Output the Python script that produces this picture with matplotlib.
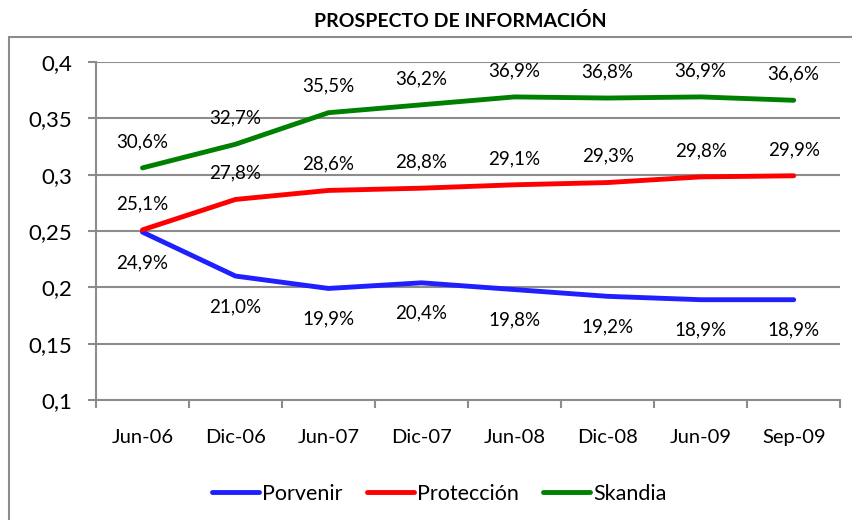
import matplotlib
matplotlib.use("Agg")
import matplotlib.pyplot as plt
from matplotlib.patches import Rectangle
from matplotlib.ticker import FuncFormatter, FixedLocator

# data (share in %)
periods = ["Jun-06", "Dic-06", "Jun-07", "Dic-07", "Jun-08", "Dic-08", "Jun-09", "Sep-09"]
porvenir = [24.9, 21.0, 19.9, 20.4, 19.8, 19.2, 18.9, 18.9]
proteccion = [25.1, 27.8, 28.6, 28.8, 29.1, 29.3, 29.8, 29.9]
skandia = [30.6, 32.7, 35.5, 36.2, 36.9, 36.8, 36.9, 36.6]

plt.rcParams['font.family'] = ['Lato', 'DejaVu Sans']

fig = plt.figure(figsize=(8.53, 5.2), dpi=100)
ax = fig.add_axes([0.1125, 0.2308, 0.8725, 0.65])

grey = '#8c8c8c'
x = list(range(len(periods)))

series = [("Porvenir", porvenir, '#1f1fff', -22),
          ("Protección", proteccion, '#ff0000', 19),
          ("Skandia", skandia, '#008000', 19)]

for name, vals, col, off in series:
    y = [v / 100 for v in vals]
    ax.plot(x, y, color=col, lw=3.5, solid_capstyle='round', label=name, zorder=3)
    for xi, yi, v in zip(x, y, vals):
        ax.annotate("{0:.1f}%".format(v).replace('.', ','), (xi, yi),
                    xytext=(0, off), textcoords='offset points',
                    ha='center', va='center', fontsize=13.5, color='black')

ax.set_xlim(-0.5, len(periods) - 0.5)
ax.set_ylim(0.1, 0.4)
ax.set_yticks([0.1, 0.15, 0.2, 0.25, 0.3, 0.35, 0.4])
ax.yaxis.set_major_formatter(FuncFormatter(lambda v, p: ("%g" % round(v, 2)).replace('.', ',')))
ax.set_xticks(x)
ax.set_xticklabels(periods)
ax.xaxis.set_minor_locator(FixedLocator([i - 0.5 for i in range(len(periods) + 1)]))

ax.tick_params(axis='x', which='major', length=0, pad=21, labelsize=14.5)
ax.tick_params(axis='x', which='minor', length=6, width=1.5, color=grey, direction='out')
ax.tick_params(axis='y', length=6, width=1.5, color=grey, pad=11, labelsize=16)

ax.grid(axis='y', color=grey, lw=1.5, zorder=0)
ax.set_axisbelow(True)
for s in ['top', 'right']:
    ax.spines[s].set_visible(False)
for s in ['left', 'bottom']:
    ax.spines[s].set_color(grey)
    ax.spines[s].set_linewidth(1.5)

fig.text(0.54, 0.96, "PROSPECTO DE INFORMACIÓN", ha='center', va='center',
         fontsize=14, fontweight='bold')

fig.legend(loc='center', bbox_to_anchor=(0.515, 0.05), ncol=3, frameon=False,
           fontsize=15.5, handlelength=2.2, handletextpad=0.15, columnspacing=1.1)

# outer chart frame
fig.add_artist(Rectangle((0.0106, -0.1), 1.2, 1.029, transform=fig.transFigure,
                         fill=False, edgecolor=grey, lw=1.5, clip_on=False))

fig.savefig("out.png", dpi=100)
